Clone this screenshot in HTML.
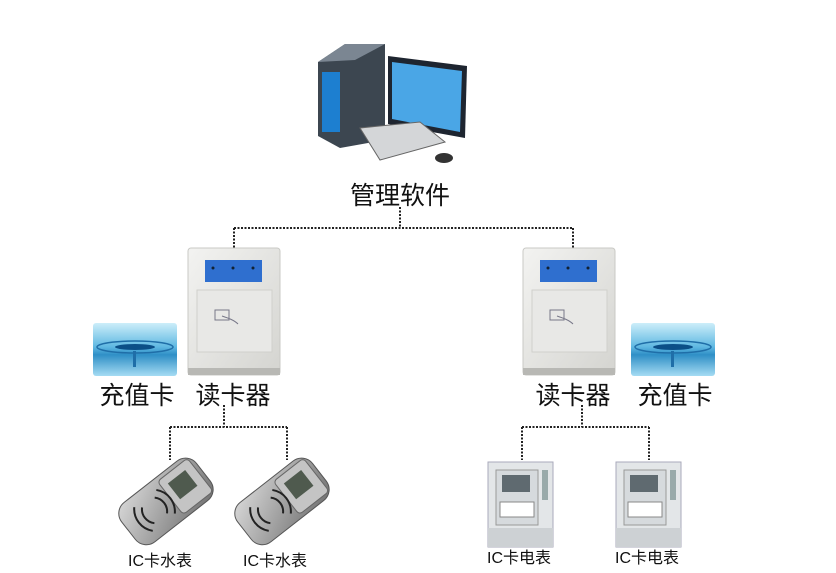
<!DOCTYPE html>
<html><head><meta charset="utf-8"><style>
body{margin:0;background:#fff;width:836px;height:573px;position:relative;overflow:hidden;font-family:"Liberation Sans","Noto Sans CJK SC",sans-serif}
.t{position:absolute;color:#111;white-space:nowrap;transform:translateX(-50%)}
.b{font-size:25px}.s{font-size:16px}
</style></head><body>
<svg width="836" height="573" style="position:absolute;left:0;top:0">
<defs>
<linearGradient id="card" x1="0" y1="0" x2="0" y2="1"><stop offset="0" stop-color="#cdeefa"/><stop offset=".45" stop-color="#5fb8e2"/><stop offset=".6" stop-color="#2f8fc6"/><stop offset="1" stop-color="#a5dcf3"/></linearGradient>
<linearGradient id="rd" x1="0" y1="0" x2="1" y2="1"><stop offset="0" stop-color="#f3f3f1"/><stop offset="1" stop-color="#d4d4d0"/></linearGradient>
<linearGradient id="wm" x1="0" y1="0" x2="1" y2="1"><stop offset="0" stop-color="#d8d8d8"/><stop offset="1" stop-color="#707070"/></linearGradient>
<g id="reader">
<rect x="0" y="0" width="92" height="127" rx="3" fill="url(#rd)" stroke="#c9c9c5"/>
<rect x="17" y="12" width="57" height="22" fill="#2f6fcf"/>
<circle cx="25" cy="20" r="1.5" fill="#123"/><circle cx="45" cy="20" r="1.5" fill="#123"/><circle cx="65" cy="20" r="1.5" fill="#123"/>
<rect x="9" y="42" width="75" height="62" fill="#e8e8e6" stroke="#d0d0cc"/>
<path d="M27 62h14v10h-14z M34 68c6 2 12 4 16 8" fill="none" stroke="#778" stroke-width="1"/>
<rect x="0" y="120" width="92" height="7" fill="#b8b8b4"/>
</g>
<g id="card1">
<rect x="0" y="0" width="84" height="53" rx="3" fill="url(#card)"/>
<ellipse cx="42" cy="24" rx="38" ry="6" fill="none" stroke="#1f6ea8" stroke-width="1.5"/>
<ellipse cx="42" cy="24" rx="20" ry="3" fill="#0b4f87"/>
<rect x="40" y="28" width="3" height="16" fill="#1f6ea8"/>
</g>
<g id="water">
<g transform="rotate(-38 40 45)">
<rect x="-5" y="20" width="95" height="50" rx="14" fill="url(#wm)" stroke="#555"/>
<rect x="48" y="24" width="38" height="42" rx="4" fill="#c4c4c4" stroke="#666"/>
<rect x="55" y="32" width="22" height="20" fill="#4f5a4e"/>
<path d="M20 35a14 14 0 0 0 0 20 M14 30a22 22 0 0 0 0 30 M36 35a14 14 0 0 1 0 20 M42 30a22 22 0 0 1 0 30" fill="none" stroke="#222" stroke-width="2"/>
</g>
</g>
<g id="elec">
<rect x="0" y="0" width="65" height="85" fill="#e3e6e8" stroke="#aab"/>
<rect x="8" y="8" width="42" height="55" fill="#d6dadd" stroke="#999"/>
<rect x="14" y="13" width="28" height="17" fill="#5f6a70"/>
<rect x="12" y="40" width="34" height="15" fill="#fff" stroke="#888"/>
<rect x="0" y="66" width="65" height="19" fill="#cdd1d4"/>
<rect x="54" y="8" width="6" height="30" fill="#9aa"/>
</g>
</defs>
<path d="M318 62 L345 44 L385 44 L385 140 L340 148 L318 136 Z" fill="#3c4650"/>
<path d="M318 62 L345 44 L385 44 L355 60 Z" fill="#7b8692"/>
<rect x="322" y="72" width="18" height="60" fill="#1d7fd0"/>
<path d="M388 56 L467 66 L465 138 L388 124 Z" fill="#1e2530"/>
<path d="M392 62 L462 71 L460 132 L392 119 Z" fill="#4aa6e6"/>
<path d="M360 128 L420 122 L445 142 L380 160 Z" fill="#d4d6d8" stroke="#666"/>
<ellipse cx="444" cy="158" rx="9" ry="5" fill="#333"/>
<g fill="none" stroke="#222" stroke-width="2" stroke-dasharray="2 1.5">
<path d="M400 207V228M234 228H573M234 228V248M573 228V248"/>
<path d="M224 405V427M170 427H287M170 427V460M287 427V460"/>
<path d="M582 405V427M522 427H649M522 427V460M649 427V460"/>
</g>
<use href="#reader" x="188" y="248"/>
<use href="#reader" x="523" y="248"/>
<use href="#card1" x="93" y="323"/>
<use href="#card1" x="631" y="323"/>
<use href="#water" x="124" y="458"/>
<use href="#water" x="240" y="458"/>
<use href="#elec" x="488" y="462"/>
<use href="#elec" x="616" y="462"/>
</svg>
<div class="t b" style="left:400px;top:176px">管理软件</div>
<div class="t b" style="left:137px;top:376px">充值卡</div>
<div class="t b" style="left:233px;top:376px">读卡器</div>
<div class="t b" style="left:573px;top:376px">读卡器</div>
<div class="t b" style="left:675px;top:376px">充值卡</div>
<div class="t s" style="left:160px;top:547px">IC卡水表</div>
<div class="t s" style="left:275px;top:547px">IC卡水表</div>
<div class="t s" style="left:519px;top:544px">IC卡电表</div>
<div class="t s" style="left:647px;top:544px">IC卡电表</div>
</body></html>
